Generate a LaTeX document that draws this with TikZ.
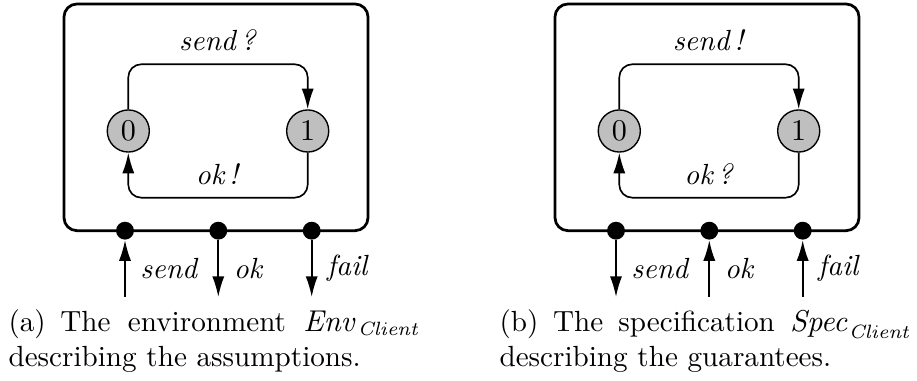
\documentclass[tikz,border=0pt]{standalone}
\usepackage{amssymb, amsmath}
\usetikzlibrary{arrows.meta}

\begin{document}
\begin{tikzpicture}[x=0.3636pt, y=-0.3636pt, font=\fontsize{10.6}{12.6}\selectfont,
  frame/.style={line width=1pt, rounded corners=4.7pt},
  state/.style={circle, draw, line width=0.5pt, fill=black!25, minimum size=15.3pt, inner sep=0pt},
  trans/.style={line width=0.6pt, rounded corners=4.7pt, -{Latex[length=7.5pt,width=4.4pt]}},
  port/.style={circle, fill=black, minimum size=6.5pt, inner sep=0pt},
  flow/.style={line width=0.6pt, -{Latex[length=7.5pt,width=4.4pt]}},
  caption/.style={anchor=north west, text width=150pt, align=justify, inner sep=0pt}]
  \useasboundingbox (0,0) rectangle (917,381);

% (a) environment
\draw [frame] (64,4) rectangle (368,230.7);
\node [state] (a0) at (128.3,131) {$0$};
\node [state] (a1) at (307.7,131) {$1$};
\coordinate (atop) at (218,64.3);
\coordinate (abot) at (218,197.7);
\draw [trans] (a0.north) |- (atop) -| (a1.north);
\draw [trans] (a1.south) |- (abot) -| (a0.south);
\node (alsend) at (218,40) {\textit{send\,?}};
\node (alok) at (218,174) {\textit{ok\,!}};

\node [port] (asend) at (125,230.7) {};
\node [port] (aok) at (218.3,230.7) {};
\node [port] (afail) at (311.7,230.7) {};
\coordinate (asend') at (125,297);
\coordinate (aok') at (218.3,297);
\coordinate (afail') at (311.7,297);
\draw [flow] (asend') -- node [right=2pt] {\textit{send}} (asend);
\draw [flow] (aok) -- node [right=2pt] {\textit{ok}} (aok');
\draw [flow] (afail) -- node [right=2pt] {\textit{fail}} (afail');

\node [caption] (acap) at (8,309)
  {(a)\enspace The environment $\mathit{Env}_{\mathit{Client}}$ describing the assumptions.};

% (b) specification
\draw [frame] (555,4) rectangle (859,230.7);
\node [state] (b0) at (619.3,131) {$0$};
\node [state] (b1) at (798.7,131) {$1$};
\coordinate (btop) at (709,64.3);
\coordinate (bbot) at (709,197.7);
\draw [trans] (b0.north) |- (btop) -| (b1.north);
\draw [trans] (b1.south) |- (bbot) -| (b0.south);
\node (blsend) at (709,40) {\textit{send\,!}};
\node (blok) at (709,174) {\textit{ok\,?}};

\node [port] (bsend) at (616,230.7) {};
\node [port] (bok) at (709.3,230.7) {};
\node [port] (bfail) at (802.7,230.7) {};
\coordinate (bsend') at (616,297);
\coordinate (bok') at (709.3,297);
\coordinate (bfail') at (802.7,297);
\draw [flow] (bsend) -- node [right=2pt] {\textit{send}} (bsend');
\draw [flow] (bok') -- node [right=2pt] {\textit{ok}} (bok);
\draw [flow] (bfail') -- node [right=2pt] {\textit{fail}} (bfail);

\node [caption] (bcap) at (499,309)
  {(b)\enspace The specification $\mathit{Spec}_{\mathit{Client}}$ describing the guarantees.};

\end{tikzpicture}
\end{document}
